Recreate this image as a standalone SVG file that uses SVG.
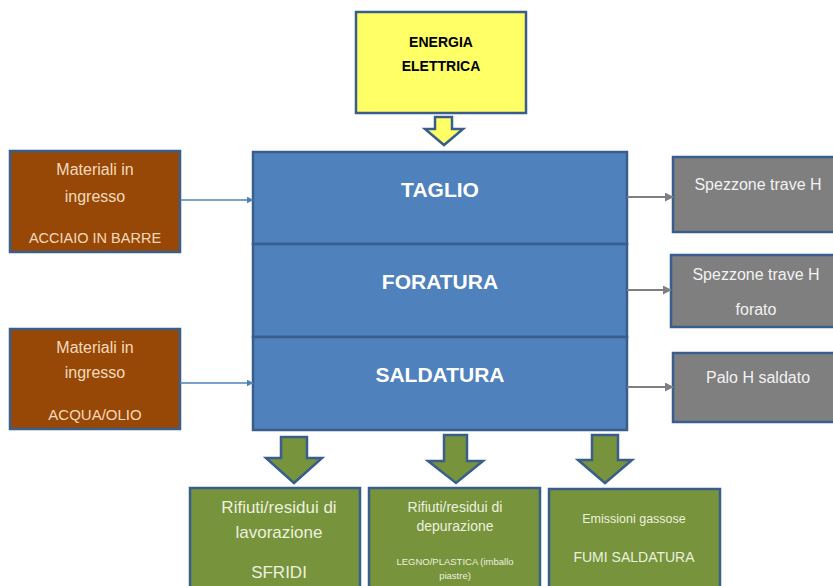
<svg xmlns="http://www.w3.org/2000/svg" width="833" height="586" viewBox="0 0 833 586">
<style>
.box{stroke:#3a5e8c;stroke-width:2.5}
.yel{fill:#ffff66}
.blu{fill:#4f81bd}
.brn{fill:#974806}
.gry{fill:#7f7f7f}
.grn{fill:#77933c}
text{font-family:"Liberation Sans",Arial,sans-serif;text-anchor:middle}
.tb{font-weight:bold;fill:#fff;font-size:21px}
.tbrn{fill:#f5d9bd;font-size:16px}
.tgry{fill:#f2f2f2;font-size:16px}
.tgrn{fill:#ebf1de}
.blk{fill:#000;font-weight:bold;font-size:14px}
.ln{fill:none}
</style>
<defs>
<marker id="ab" viewBox="0 0 10 10" refX="9" refY="5" markerWidth="7" markerHeight="7" markerUnits="userSpaceOnUse" orient="auto"><path d="M0,0 L10,5 L0,10 z" fill="#4f81bd"/></marker>
<marker id="ag" viewBox="0 0 10 10" refX="9" refY="5" markerWidth="9" markerHeight="9" markerUnits="userSpaceOnUse" orient="auto"><path d="M0,0 L10,5 L0,10 z" fill="#7f7f7f"/></marker>
</defs>
<rect width="833" height="586" fill="#fff"/>

<g id="energia">
<rect class="box yel" x="356" y="12" width="170" height="101"/>
<text class="blk" x="441" y="47">ENERGIA</text>
<text class="blk" x="441" y="71">ELETTRICA</text>
</g>

<g id="taglio">
<rect class="box blu" x="253" y="152" width="374" height="92"/>
<text class="tb" x="440" y="197">TAGLIO</text>
</g>
<g id="foratura">
<rect class="box blu" x="253" y="244" width="374" height="93"/>
<text class="tb" x="440" y="289">FORATURA</text>
</g>
<g id="saldatura">
<rect class="box blu" x="253" y="337" width="374" height="93"/>
<text class="tb" x="440" y="382">SALDATURA</text>
</g>

<g id="materiali1">
<rect class="box brn" x="10" y="151" width="170" height="101"/>
<text class="tbrn" x="95" y="175">Materiali in</text>
<text class="tbrn" x="95" y="202">ingresso</text>
<text class="tbrn" x="95" y="243" style="font-size:14.5px">ACCIAIO IN BARRE</text>
</g>
<g id="materiali2">
<rect class="box brn" x="10" y="329" width="170" height="100"/>
<text class="tbrn" x="95" y="353">Materiali in</text>
<text class="tbrn" x="95" y="378">ingresso</text>
<text class="tbrn" x="95" y="420" style="font-size:15px">ACQUA/OLIO</text>
</g>

<g id="spezzone">
<rect class="box gry" x="673" y="157" width="175" height="75"/>
<text class="tgry" x="758" y="190">Spezzone trave H</text>
</g>
<g id="spezzone-forato">
<rect class="box gry" x="671" y="255" width="175" height="72"/>
<text class="tgry" x="756" y="280">Spezzone trave H</text>
<text class="tgry" x="756" y="315">forato</text>
</g>
<g id="palo">
<rect class="box gry" x="673" y="353" width="175" height="69"/>
<text class="tgry" x="758" y="383">Palo H saldato</text>
</g>

<g id="rifiuti-lavorazione">
<rect class="box grn" x="190" y="488" width="170" height="110"/>
<text class="tgrn" x="279" y="513" style="font-size:17px">Rifiuti/residui di</text>
<text class="tgrn" x="279" y="538" style="font-size:17px">lavorazione</text>
<text class="tgrn" x="279" y="578" style="font-size:17px">SFRIDI</text>
</g>
<g id="rifiuti-depurazione">
<rect class="box grn" x="369" y="488" width="171" height="110"/>
<text class="tgrn" x="455" y="512" style="font-size:14px">Rifiuti/residui di</text>
<text class="tgrn" x="455" y="531" style="font-size:14px">depurazione</text>
<text class="tgrn" x="455" y="565" style="font-size:9.5px">LEGNO/PLASTICA (imballo</text>
<text class="tgrn" x="455" y="579" style="font-size:9.5px">piastre)</text>
</g>
<g id="emissioni">
<rect class="box grn" x="549" y="489" width="171" height="110"/>
<text class="tgrn" x="634" y="523" style="font-size:12.5px">Emissioni gassose</text>
<text class="tgrn" x="634" y="562" style="font-size:14px">FUMI SALDATURA</text>
</g>

<g id="connectors">
<line class="ln" x1="180" y1="200" x2="253" y2="200" stroke="#4f81bd" stroke-width="1.3" marker-end="url(#ab)"/>
<line class="ln" x1="180" y1="383" x2="253" y2="383" stroke="#4f81bd" stroke-width="1.3" marker-end="url(#ab)"/>
<line class="ln" x1="627" y1="197" x2="673" y2="197" stroke="#7f7f7f" stroke-width="2" marker-end="url(#ag)"/>
<line class="ln" x1="627" y1="290" x2="671" y2="290" stroke="#7f7f7f" stroke-width="2" marker-end="url(#ag)"/>
<line class="ln" x1="627" y1="387" x2="673" y2="387" stroke="#7f7f7f" stroke-width="2" marker-end="url(#ag)"/>
<polygon class="box yel" points="435,117 452,117 452,129 463,129 444,145 425,129 435,129"/>
<polygon class="box grn" points="281,437 307,437 307,458 322,458 294,483 266,458 281,458"/>
<polygon class="box grn" points="444,435 467,435 467,461 483,461 456,483 428,461 444,461"/>
<polygon class="box grn" points="592,435 618,435 618,460 632,460 605,483 578,460 592,460"/>
</g>
</svg>
